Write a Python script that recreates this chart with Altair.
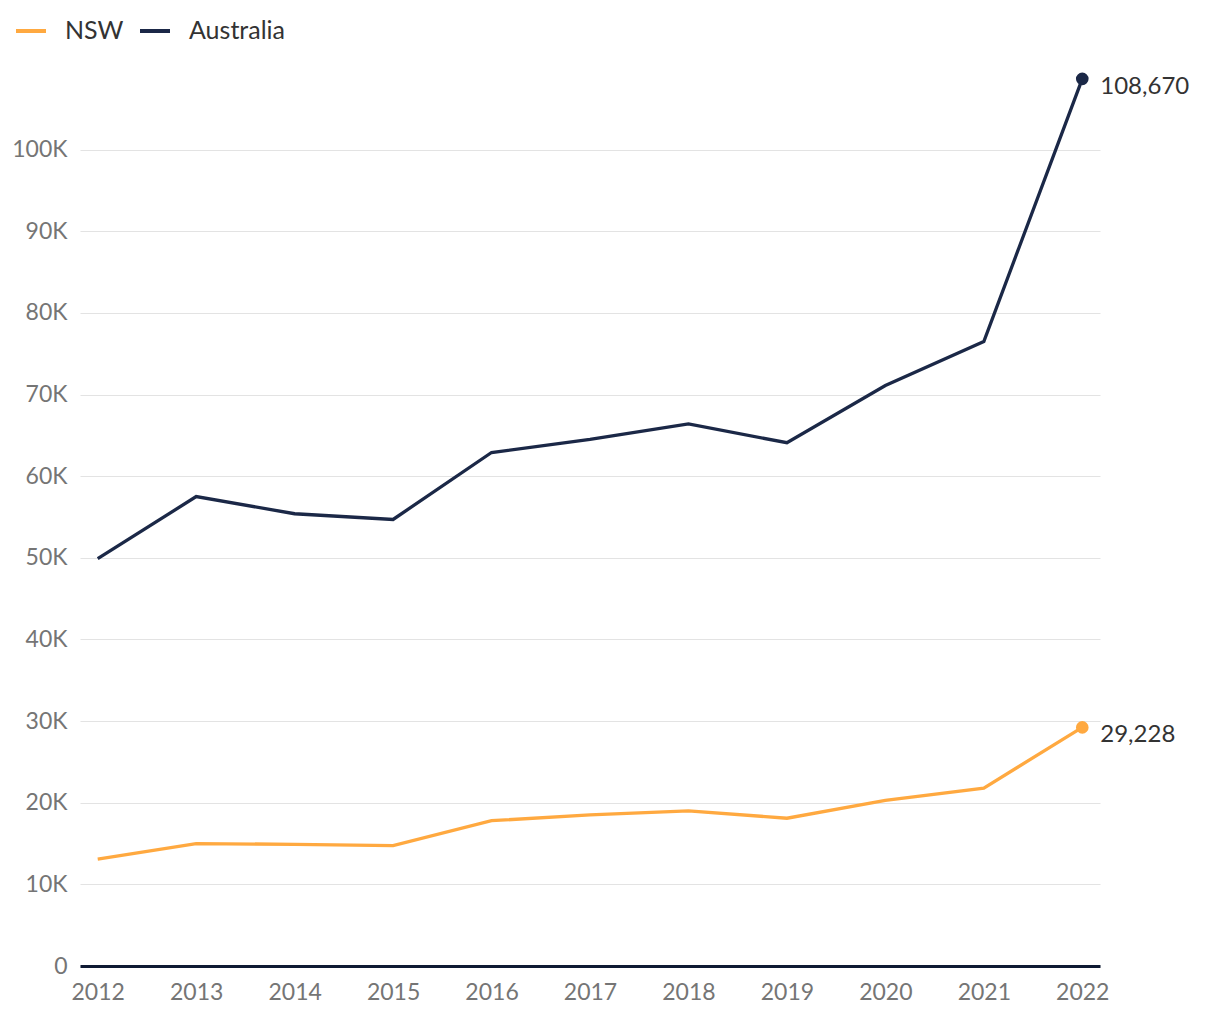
import altair as alt
import pandas as pd

years = [2012, 2013, 2014, 2015, 2016, 2017, 2018, 2019, 2020, 2021, 2022]
nsw = [13100, 15000, 14900, 14750, 17800, 18500, 19000, 18100, 20300, 21800, 29228]
australia = [49900, 57500, 55400, 54700, 62900, 64500, 66400, 64100, 71100, 76500, 108670]
series_names = ["NSW", "Australia"]
series_colors = ["#FFA940", "#1B2847"]
y_ticks = [0, 10000, 20000, 30000, 40000, 50000, 60000, 70000, 80000, 90000, 100000]

rows = []
for name, vals in zip(series_names, [nsw, australia]):
    for yr, v in zip(years, vals):
        rows.append({"year": yr, "series": name, "value": v})
df = pd.DataFrame(rows)

FONT = "Lato"

base = alt.Chart(df).encode(
    x=alt.X(
        "year:O",
        title=None,
        scale=alt.Scale(type="point", padding=0.18),
        axis=alt.Axis(
            labelAngle=0,
            labelFontSize=23,
            labelColor="#757575",
            labelFont=FONT,
            labelPadding=15,
            ticks=False,
            domain=True,
            domainColor="#0F1A33",
            domainWidth=3,
            grid=False,
        ),
    ),
    y=alt.Y(
        "value:Q",
        title=None,
        scale=alt.Scale(domain=[0, 110000], nice=False),
        axis=alt.Axis(
            values=y_ticks,
            labelExpr="datum.value == 0 ? '0' : (datum.value / 1000) + 'K'",
            labelFontSize=23,
            labelColor="#757575",
            labelFont=FONT,
            labelPadding=13,
            ticks=False,
            domain=False,
            grid=True,
            gridColor="#E3E3E3",
            gridWidth=1,
        ),
    ),
    color=alt.Color(
        "series:N",
        scale=alt.Scale(domain=series_names, range=series_colors),
        legend=alt.Legend(
            title=None,
            orient="none",
            legendX=-66,
            legendY=-54,
            direction="horizontal",
            symbolType="stroke",
            symbolSize=900,
            symbolStrokeWidth=4,
            labelFontSize=25,
            labelColor="#333333",
            labelFont=FONT,
            labelOffset=17,
            columnPadding=8,
        ),
    ),
)

lines = base.mark_line(strokeWidth=3.3)
points = base.mark_circle(size=160, opacity=1).transform_filter("datum.year == 2022")
labels = base.mark_text(
    align="left", baseline="middle", dx=18, dy=8, fontSize=24, font=FONT
).encode(
    text=alt.Text("value:Q", format=","),
    color=alt.value("#333333"),
).transform_filter("datum.year == 2022")

chart = (
    alt.layer(lines, points, labels)
    .properties(
        width=1020,
        height=898,
        padding={"left": 72, "top": 60, "right": 112, "bottom": 50},
        autosize=alt.AutoSizeParams(type="none"),
    )
    .configure_view(stroke=None)
)

chart.save("out.html", embed_options={"renderer": "svg", "actions": False})
